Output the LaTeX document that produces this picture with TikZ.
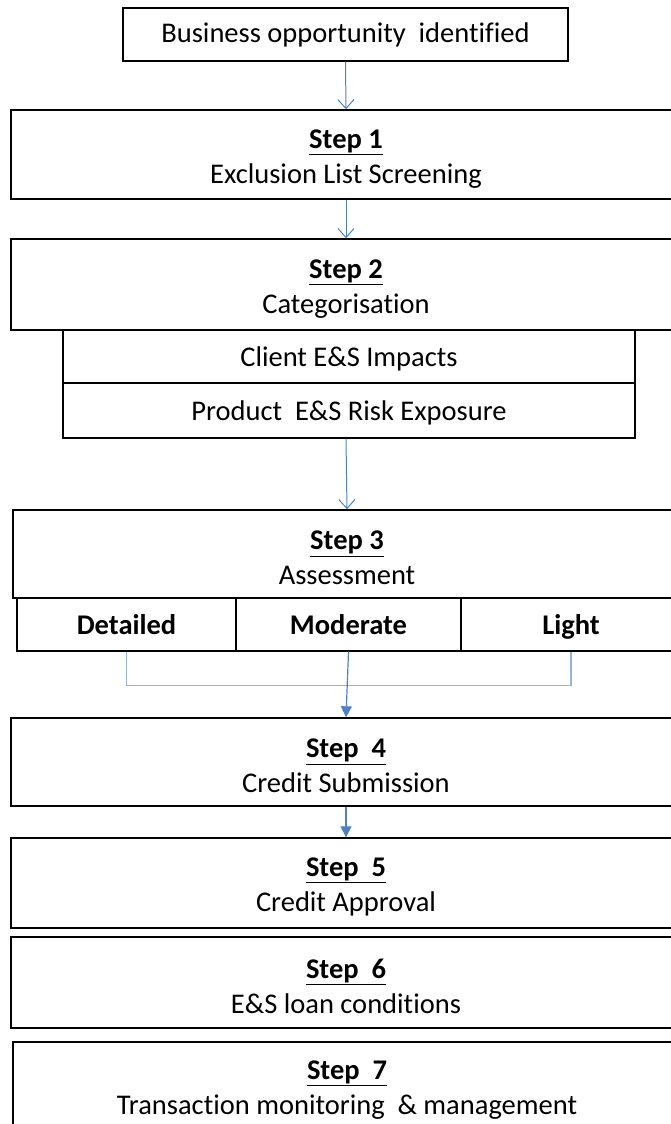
\documentclass[tikz,border=0pt]{standalone}
\usepackage{fontspec}
\setmainfont{Carlito}[Ligatures=NoCommon]
\usetikzlibrary{arrows.meta}
\definecolor{arrblue}{HTML}{4F81BD}
\definecolor{lightblue}{HTML}{95B3D7}
\tikzset{
  box/.style={draw=black, line width=1.4pt, fill=white, rectangle, inner sep=0pt, align=center,
    font=\fontsize{28.5}{35}\selectfont},
  cell/.style={box, font=\fontsize{28.5}{30}\selectfont, text height=23pt, text depth=4pt},
  openarr/.style={draw=arrblue, line width=1pt, -{Straight Barb[length=9pt,width=16pt,line width=1pt]}},
  fillarr/.style={draw=arrblue, line width=1.2pt, -{Triangle[length=11pt,width=11pt]}},
  merge/.style={draw=lightblue, line width=1.2pt},
}
\newcommand{\stephead}[1]{\rule{0pt}{27pt}{\bfseries\underline{#1}}}
\begin{document}
\begin{tikzpicture}[x=1pt,y=-1pt]
\useasboundingbox (0,0) rectangle (671,1124);
\clip (0,0) rectangle (671,1124);
\node[box, minimum width=445pt, minimum height=53pt, text height=22pt, text depth=5pt] (top) at (345.5,34.5) {Business opportunity\ \ identified};
\node[box, minimum width=670pt, minimum height=89pt] (s1) at (346,154.5) {\stephead{Step 1}\\Exclusion List Screening};
\node[box, minimum width=670pt, minimum height=91pt] (s2) at (346,284.5) {\stephead{Step 2}\\Categorisation};
\node[cell, minimum width=572pt, minimum height=53pt] (c1) at (349,356.5) {Client E\&S Impacts};
\node[cell, minimum width=572pt, minimum height=55pt] (c2) at (349,410.5) {Product\ \ E\&S Risk Exposure};
\node[box, minimum width=668pt, minimum height=88pt] (s3) at (347,554) {\stephead{Step 3}\\Assessment};
\node[cell, minimum width=219pt, minimum height=53pt, font=\fontsize{28.5}{30}\selectfont\bfseries] (det) at (126.5,624.5) {Detailed};
\node[cell, minimum width=225pt, minimum height=53pt, font=\fontsize{28.5}{30}\selectfont\bfseries] (mod) at (348.5,624.5) {Moderate};
\node[cell, minimum width=220pt, minimum height=53pt, font=\fontsize{28.5}{30}\selectfont\bfseries] (lig) at (571,624.5) {Light};
\node[box, minimum width=670pt, minimum height=88pt] (s4) at (346,762) {\stephead{Step\ \ 4}\\Credit Submission};
\node[box, minimum width=670pt, minimum height=90pt] (s5) at (346,883) {\stephead{Step\ \ 5}\\Credit Approval};
\node[box, minimum width=670pt, minimum height=91pt] (s6) at (346,982.5) {\stephead{Step\ \ 6}\\E\&S loan conditions};
\node[box, minimum width=668pt, minimum height=88pt] (s7) at (347,1086) {\stephead{Step\ \ 7}\\Transaction monitoring\ \ \& management};
\draw[openarr] (top.south) -- (s1.north);
\draw[openarr] (s1.south) -- (s2.north);
\draw[openarr] (c2.south -| s2.south) -- (s3.north);
\draw[merge] (det.south) -- ++(0,34) -| (lig.south);
\draw[fillarr] (mod.south) -- (s4.north);
\draw[fillarr] (s4.south) -- (s5.north);
\end{tikzpicture}
\end{document}
